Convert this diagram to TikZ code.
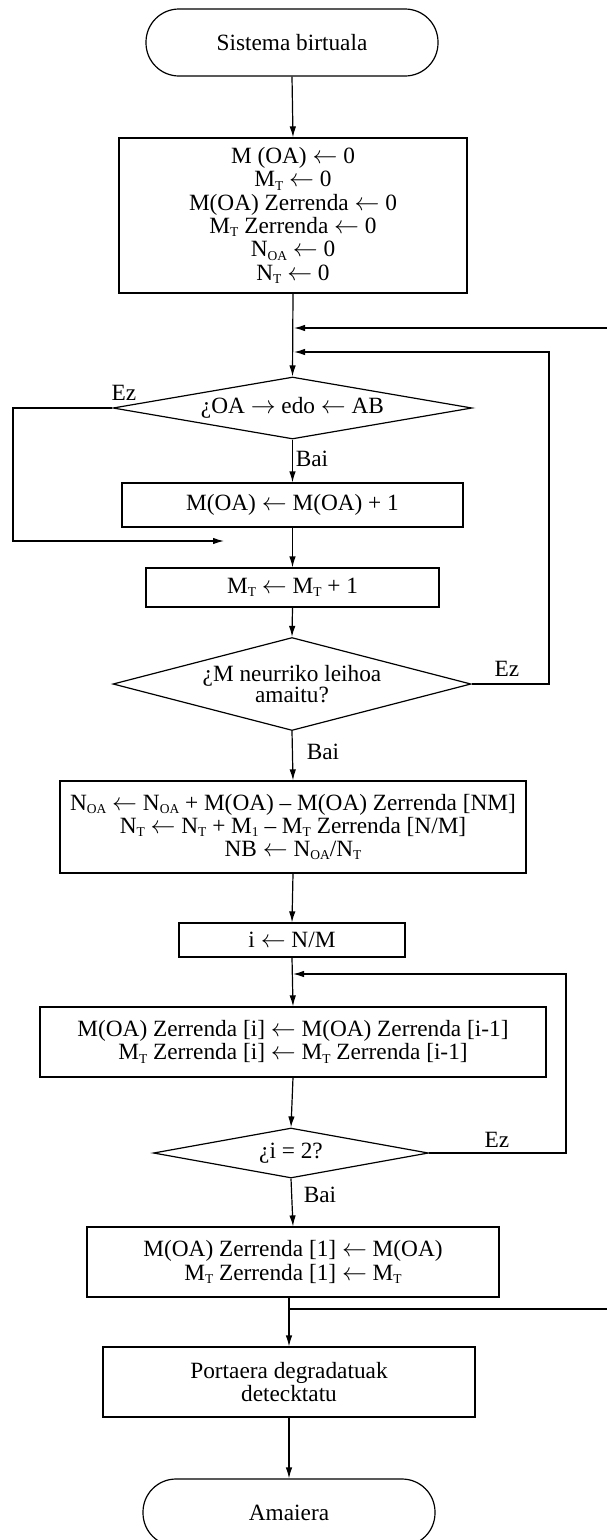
\documentclass[tikz,border=0pt]{standalone}
\usepackage{fontspec}
\setmainfont{Liberation Serif}
\usetikzlibrary{shapes.geometric,arrows.meta}
\newcommand\sbs[1]{\raisebox{-3.5pt}{\fontsize{13.5}{13.5}\selectfont #1}}
\newcommand\myla{$\leftarrow$}
\newcommand\myra{$\rightarrow$}
\begin{document}
\begin{tikzpicture}[x=1pt,y=-1pt,
  every node/.style={font=\fontsize{23.3}{23.3}\selectfont},
  proc/.style={draw, line width=1.2pt, rectangle, inner sep=0pt, align=center},
  term/.style={draw, line width=1.2pt, rectangle, rounded corners=33pt, inner sep=0pt, align=center},
  dec/.style={draw, line width=1.2pt, diamond, inner sep=0pt, align=center},
  conn/.style={line width=1.2pt},
  arr/.style={conn, -{Latex[length=11pt,width=6.5pt]}},
  lbl/.style={inner sep=0pt}]
\useasboundingbox (0,0) rectangle (607,1540);

\node[term, minimum width=292pt, minimum height=67pt] (start) at (292,42.5) {Sistema birtuala};
\node[proc, minimum width=348pt, minimum height=155pt] (b1) at (293,215.5)
  {M (OA) \myla{} 0\\ M\sbs{T} \myla{} 0\\ M(OA) Zerrenda \myla{} 0\\ M\sbs{T} Zerrenda \myla{} 0\\ N\sbs{OA} \myla{} 0\\ N\sbs{T} \myla{} 0};
\node[dec, aspect=5.8, minimum width=359pt, minimum height=62pt] (d1) at (292.5,408) {¿OA \myra{} edo \myla{} AB};
\node[proc, minimum width=341pt, minimum height=44pt] (b2) at (292.5,505) {M(OA) \myla{} M(OA) + 1};
\node[proc, minimum width=293pt, minimum height=39pt] (b3) at (292.5,587.5) {M\sbs{T} \myla{} M\sbs{T} + 1};
\node[dec, aspect=3.85, minimum width=358pt, minimum height=93pt, font=\fontsize{23.3}{21.5}\selectfont] (d2) at (292,684) {¿M neurriko leihoa\\amaitu?};
\node[proc, minimum width=466pt, minimum height=92pt, font=\fontsize{23.3}{23}\selectfont] (b4) at (293,827)
  {N\sbs{OA} \myla{} N\sbs{OA} + M(OA) – M(OA) Zerrenda [NM]\\ N\sbs{T} \myla{} N\sbs{T} + M\sbs{1} – M\sbs{T} Zerrenda [N/M]\\ NB \myla{} N\sbs{OA}/N\sbs{T}};
\node[proc, minimum width=226pt, minimum height=34pt] (b5) at (292,940) {i \myla{} N/M};
\node[proc, minimum width=506pt, minimum height=70pt] (b6) at (293,1042)
  {M(OA) Zerrenda [i] \myla{} M(OA) Zerrenda [i-1]\\ M\sbs{T} Zerrenda [i] \myla{} M\sbs{T} Zerrenda [i-1]};
\node[dec, aspect=5.5, minimum width=275pt, minimum height=50pt] (d3) at (291,1153) {¿i = 2?};
\node[proc, minimum width=412pt, minimum height=70pt] (b7) at (293,1262)
  {M(OA) Zerrenda [1] \myla{} M(OA)\\ M\sbs{T} Zerrenda [1] \myla{} M\sbs{T}};
\node[proc, minimum width=372pt, minimum height=70pt] (b8) at (289,1382) {Portaera degradatuak\\ detecktatu};
\node[term, minimum width=292pt, minimum height=67pt] (end) at (289,1512.5) {Amaiera};

\node[lbl] (ez1) at (124,393) {Ez};
\node[lbl] (bai1) at (312,459) {Bai};
\node[lbl] (ez2) at (507,669) {Ez};
\node[lbl] (bai2) at (323,752) {Bai};
\node[lbl] (ez3) at (497,1140) {Ez};
\node[lbl] (bai3) at (320,1195) {Bai};

\coordinate (j1) at (294,328);
\coordinate (e1) at (607,328);
\coordinate (j2) at (294,352);
\coordinate (r2) at (549,352);
\coordinate (l1) at (13,541);
\coordinate (lin) at (224,541);
\coordinate (j3) at (293,974);
\coordinate (r3) at (566,974);
\coordinate (j4) at (289,1309);
\coordinate (e4) at (607,1309);

\draw[arr] (start.south) -- (b1.north);
\draw[arr] (b1.south) -- (d1.north);
\draw[arr] (e1) -- (j1);
\draw[arr] (d2.east) -- (d2.east -| r2) -- (r2) -- (j2);
\draw[arr] (d1.west) -- (d1.west -| l1) -- (l1) -- (lin);
\draw[arr] (d1.south) -- (b2.north);
\draw[arr] (b2.south) -- (b3.north);
\draw[arr] (b3.south) -- (d2.north);
\draw[arr] (d2.south) -- (b4.north);
\draw[arr] (b4.south) -- (b5.north);
\draw[arr] (b5.south) -- (b6.north);
\draw[arr] (d3.east) -- (d3.east -| r3) -- (r3) -- (j3);
\draw[arr] (b6.south) -- (d3.north);
\draw[arr] (d3.south) -- (b7.north);
\draw[arr] (b8.north |- b7.south) -- (b8.north);
\draw[conn] (j4) -- (e4);
\draw[arr] (b8.south) -- (end.north);
\end{tikzpicture}
\end{document}
